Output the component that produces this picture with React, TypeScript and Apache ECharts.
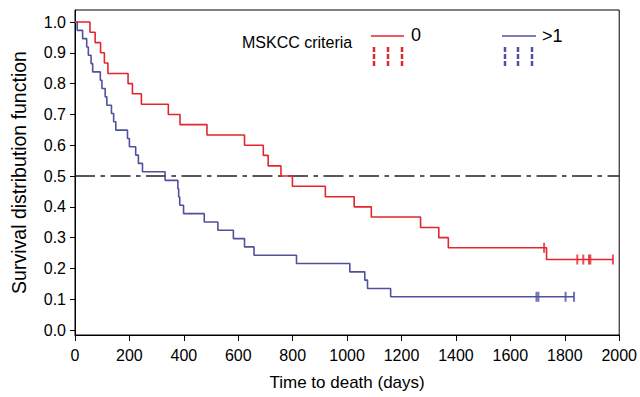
import React, { useEffect, useRef } from "react";
import * as echarts from "echarts";

// ---- data ----
const xTicks = [0, 200, 400, 600, 800, 1000, 1200, 1400, 1600, 1800, 2000];
const yTicks = [0, 0.1, 0.2, 0.3, 0.4, 0.5, 0.6, 0.7, 0.8, 0.9, 1.0];

// MSKCC criteria = 0 (red)
const redTimes = [55, 74, 94, 108, 121, 195, 211, 244, 343, 386, 485, 623, 692, 710, 757, 799, 920, 1026, 1089, 1270, 1337, 1372, 1733];
const redSurv = [0.967, 0.933, 0.9, 0.867, 0.833, 0.8, 0.767, 0.733, 0.7, 0.667, 0.633, 0.6, 0.567, 0.533, 0.5, 0.467, 0.433, 0.4, 0.367, 0.333, 0.3, 0.267, 0.229];
const redCensorTimes = [1724, 1846, 1868, 1889, 1894, 1977];
const redCensorSurv = [0.267, 0.229, 0.229, 0.229, 0.229, 0.229];

// MSKCC criteria >1 (blue)
const blueTimes = [8, 28, 43, 49, 59, 65, 93, 99, 111, 117, 134, 142, 150, 193, 200, 223, 233, 248, 331, 378, 381, 385, 399, 475, 525, 582, 623, 658, 814, 1010, 1065, 1075, 1160];
const blueSurv = [0.973, 0.946, 0.919, 0.892, 0.865, 0.838, 0.811, 0.784, 0.757, 0.73, 0.703, 0.676, 0.649, 0.622, 0.595, 0.568, 0.541, 0.514, 0.486, 0.459, 0.432, 0.405, 0.378, 0.351, 0.324, 0.297, 0.27, 0.243, 0.216, 0.189, 0.162, 0.135, 0.108];
const blueCensorTimes = [1696, 1703, 1803, 1834];
const blueCensorSurv = [0.108, 0.108, 0.108, 0.108];

const medianLine = [0.5];

const RED = "#e3262d";
const BLUE = "#50509e";
const FONT = "'Liberation Sans', Arial, Helvetica, sans-serif";

function stepData(times: number[], surv: number[], endTime: number) {
  const pts: number[][] = [[0, 1]];
  let prev = 1;
  for (let i = 0; i < times.length; i++) {
    pts.push([times[i], prev]);
    pts.push([times[i], surv[i]]);
    prev = surv[i];
  }
  if (endTime > times[times.length - 1]) pts.push([endTime, prev]);
  return pts;
}

export default function App() {
  const ref = useRef<HTMLDivElement>(null);
  useEffect(() => {
    if (!ref.current) return;
    const chart = echarts.init(ref.current, undefined, { renderer: "svg" });
    const redEnd = Math.max(...redCensorTimes);
    const blueEnd = Math.max(...blueCensorTimes);
    const legendTicks = (xs: number[], color: string) =>
      xs.map((x) => ({
        type: "line",
        shape: { x1: x, y1: 47, x2: x, y2: 66 },
        style: { stroke: color, lineWidth: 2.5, lineDash: [5, 2] },
        silent: true,
      }));
    chart.setOption({
      animation: false,
      backgroundColor: "#fff",
      textStyle: { fontFamily: FONT },
      grid: {
        left: 75,
        right: 18,
        top: 10,
        bottom: 62,
        show: true,
        borderColor: "#000",
        borderWidth: 1,
        backgroundColor: "transparent",
      },
      xAxis: {
        type: "value",
        min: 0,
        max: 2000,
        interval: 200,
        name: "Time to death (days)",
        nameLocation: "middle",
        nameGap: 39,
        nameTextStyle: { fontSize: 17, color: "#000", fontFamily: FONT },
        axisLine: { show: true, onZero: false, lineStyle: { color: "#000", width: 1 } },
        axisTick: { show: true, inside: false, length: 6, lineStyle: { color: "#000" } },
        axisLabel: {
          show: true,
          fontSize: 16,
          color: "#000",
          margin: 12,
          fontFamily: FONT,
          customValues: xTicks,
          formatter: (v: number) => String(v),
        },
        splitLine: { show: false },
      },
      yAxis: {
        type: "value",
        min: -0.016,
        max: 1.039,
        name: "Survival distribution function",
        nameLocation: "middle",
        nameGap: 46,
        nameTextStyle: { fontSize: 19.5, color: "#000", fontFamily: FONT },
        axisLine: { show: true, onZero: false, lineStyle: { color: "#000", width: 1 } },
        axisTick: { show: true, inside: false, length: 5, lineStyle: { color: "#000" }, customValues: yTicks },
        axisLabel: {
          show: true,
          fontSize: 16,
          color: "#000",
          margin: 9,
          fontFamily: FONT,
          customValues: yTicks,
          formatter: (v: number) => v.toFixed(1),
        },
        splitLine: { show: false },
      },
      series: [
        {
          type: "line",
          data: [
            [0, medianLine[0]],
            [2000, medianLine[0]],
          ],
          symbol: "none",
          silent: true,
          lineStyle: { color: "#222", width: 1.5, type: [20, 5.5, 4.5, 5.5] },
          z: 1,
        },
        {
          name: "0",
          type: "line",
          data: stepData(redTimes, redSurv, redEnd),
          symbol: "none",
          lineStyle: { color: RED, width: 1.6 },
          z: 3,
        },
        {
          name: ">1",
          type: "line",
          data: stepData(blueTimes, blueSurv, blueEnd),
          symbol: "none",
          lineStyle: { color: BLUE, width: 1.6 },
          z: 2,
        },
        {
          type: "scatter",
          data: redCensorTimes.map((t, i) => [t, redCensorSurv[i]]),
          symbol: "rect",
          symbolSize: [2, 10],
          itemStyle: { color: RED },
          z: 4,
        },
        {
          type: "scatter",
          data: blueCensorTimes.map((t, i) => [t, blueCensorSurv[i]]),
          symbol: "rect",
          symbolSize: [2, 10],
          itemStyle: { color: BLUE },
          z: 4,
        },
      ],
      graphic: [
        {
          type: "text",
          x: 242,
          y: 42,
          style: { text: "MSKCC criteria", fontSize: 16, fill: "#000", fontFamily: FONT, verticalAlign: "middle", align: "left" },
        },
        { type: "line", shape: { x1: 371, y1: 36, x2: 404, y2: 36 }, style: { stroke: RED, lineWidth: 1.6 } },
        {
          type: "text",
          x: 411,
          y: 35,
          style: { text: "0", fontSize: 18, fill: "#000", fontFamily: FONT, verticalAlign: "middle", align: "left" },
        },
        ...legendTicks([374, 388, 402], RED),
        { type: "line", shape: { x1: 502, y1: 36, x2: 536, y2: 36 }, style: { stroke: BLUE, lineWidth: 1.6 } },
        {
          type: "text",
          x: 542,
          y: 36,
          style: { text: ">1", fontSize: 18, fill: "#000", fontFamily: FONT, verticalAlign: "middle", align: "left" },
        },
        ...legendTicks([505, 518, 532], BLUE),
      ],
    });
    return () => chart.dispose();
  }, []);
  return (
    <div
      ref={ref}
      style={{ position: "fixed", left: 0, top: 0, width: 640, height: 397, background: "#fff" }}
    />
  );
}
